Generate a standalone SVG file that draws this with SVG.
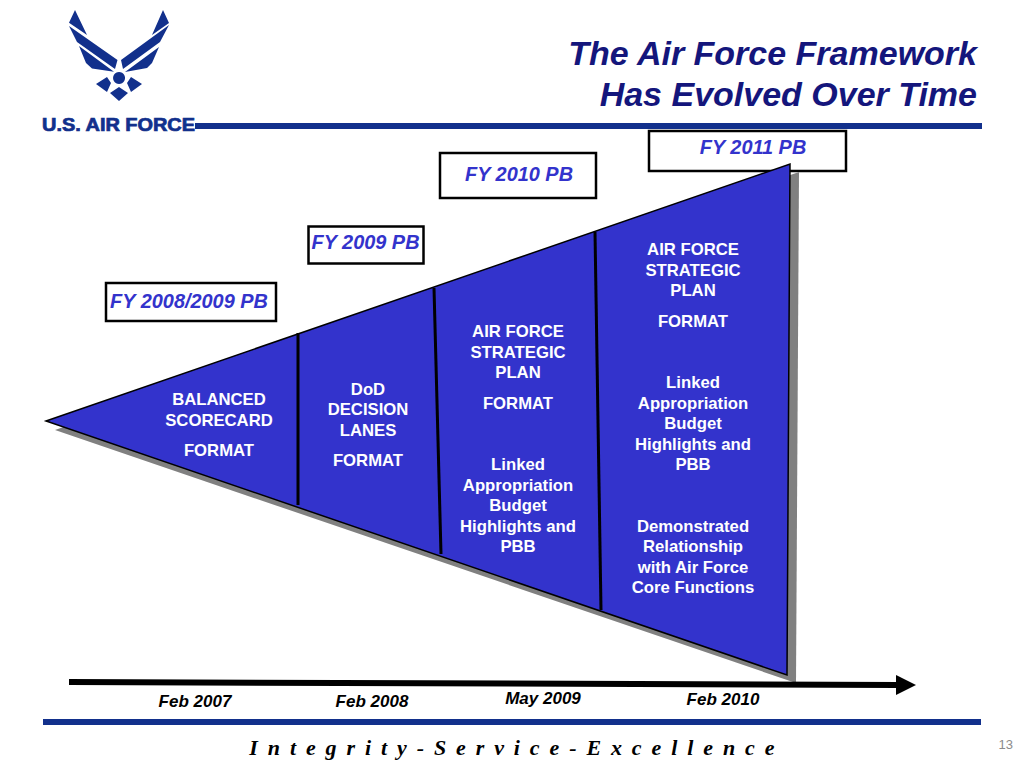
<svg xmlns="http://www.w3.org/2000/svg" width="1024" height="768" viewBox="0 0 1024 768">
<style>
text{font-family:"Liberation Sans",Arial,sans-serif}
.w{fill:#fff;font-size:16.7px;font-weight:bold;text-anchor:middle}
.fy{fill:#3333cc;font-size:19.9px;font-weight:bold;font-style:italic;text-anchor:middle}
.box{fill:#fff;stroke:#000;stroke-width:2.5}
.d{fill:#000;font-size:17px;font-weight:bold;font-style:italic;text-anchor:middle}
.t{fill:#14167c;font-size:34px;font-weight:bold;font-style:italic;text-anchor:end}
.div{stroke:#000;stroke-width:3;fill:none}
.logo{fill:#12308c}
</style>
<defs><marker id="ah" markerUnits="userSpaceOnUse" markerWidth="22" markerHeight="20" refX="2" refY="10" orient="auto"><path d="M0 0L20 10L0 20Z" fill="#000"/></marker></defs>
<g id="logo">
<path class="logo" d="M75 10L87 35L69 22.7ZM163 10L169 23L152 35ZM69 26L77 42L115 69L117.5 60ZM169 25L160 42L123 69L121 60ZM79 46L86 63L92 68.5L114 71.7ZM159 47L152 63L147 68L125 72ZM119 72a6 6 0 1 0 .1 0ZM107 77L111 83L107 92L96 84ZM131 77L142 84L131 92L127 83ZM119 87L128 93L119 101L110 93Z"/>
<text x="42" y="131" font-size="17.5" font-weight="900" fill="#12308c" textLength="153" lengthAdjust="spacingAndGlyphs" stroke="#12308c" stroke-width=".7">U.S. AIR FORCE</text>
</g>
<rect id="top-rule" x="195" y="123" width="787" height="6" fill="#12308c"/>
<g id="title">
<text class="t" x="977" y="65">The Air Force Framework</text>
<text class="t" x="977" y="106">Has Evolved Over Time</text>
</g>
<g id="fy2011"><rect class="box" x="649" y="131" width="197" height="40"/><text class="fy" x="753" y="154">FY 2011 PB</text></g>
<g id="triangle">
<path d="M55 430L799 172L796 683Z" fill="#808080"/>
<path d="M46 421L790 164L787 675Z" fill="#3333cc" stroke="#000" stroke-width="1.5"/>
</g>
<g id="connectors">
<path class="div" d="M298 333L298 505"/>
<path class="div" d="M434 288L441 554"/>
<path class="div" d="M595 232L601 610"/>
<path d="M69 682L898 685" stroke="#000" stroke-width="6" fill="none" marker-end="url(#ah)"/>
</g>
<g id="fy2010"><rect class="box" x="440" y="153" width="156" height="45"/><text class="fy" x="519" y="181">FY 2010 PB</text></g>
<g id="fy2009"><rect class="box" x="308.500" y="226.500" width="115" height="37"/><text class="fy" x="365.500" y="249">FY 2009 PB</text></g>
<g id="fy2008"><rect class="box" x="106" y="283" width="170" height="38"/><text class="fy" x="189" y="308">FY 2008/2009 PB</text></g>
<g id="seg1">
<text class="w" x="219" y="405">BALANCED</text>
<text class="w" x="219" y="426">SCORECARD</text>
<text class="w" x="219" y="456">FORMAT</text>
</g>
<g id="seg2">
<text class="w" x="368" y="395">DoD</text>
<text class="w" x="368" y="415">DECISION</text>
<text class="w" x="368" y="436">LANES</text>
<text class="w" x="368" y="466">FORMAT</text>
</g>
<g id="seg3">
<text class="w" x="518" y="337">AIR FORCE</text>
<text class="w" x="518" y="358">STRATEGIC</text>
<text class="w" x="518" y="378">PLAN</text>
<text class="w" x="518" y="409">FORMAT</text>
<text class="w" x="518" y="470">Linked</text>
<text class="w" x="518" y="491">Appropriation</text>
<text class="w" x="518" y="511">Budget</text>
<text class="w" x="518" y="532">Highlights and</text>
<text class="w" x="518" y="552">PBB</text>
</g>
<g id="seg4">
<text class="w" x="693" y="255">AIR FORCE</text>
<text class="w" x="693" y="276">STRATEGIC</text>
<text class="w" x="693" y="296">PLAN</text>
<text class="w" x="693" y="327">FORMAT</text>
<text class="w" x="693" y="388">Linked</text>
<text class="w" x="693" y="409">Appropriation</text>
<text class="w" x="693" y="429">Budget</text>
<text class="w" x="693" y="450">Highlights and</text>
<text class="w" x="693" y="470">PBB</text>
<text class="w" x="693" y="532">Demonstrated</text>
<text class="w" x="693" y="552">Relationship</text>
<text class="w" x="693" y="573">with Air Force</text>
<text class="w" x="693" y="593">Core Functions</text>
</g>
<g id="dates">
<text class="d" x="195" y="707">Feb 2007</text>
<text class="d" x="372" y="707">Feb 2008</text>
<text class="d" x="543" y="704">May 2009</text>
<text class="d" x="723" y="705">Feb 2010</text>
</g>
<rect id="bottom-rule" x="43" y="719" width="938" height="6" fill="#12308c"/>
<text id="motto" x="513" y="755" text-anchor="middle" style="font-family:'Liberation Serif',serif;font-size:22px;font-weight:bold;font-style:italic;letter-spacing:2.2px" fill="#000">I n t e g r i t y - S e r v i c e - E x c e l l e n c e</text>
<text id="page" x="1013" y="749" text-anchor="end" font-size="13" fill="#8c8c8c">13</text>
</svg>
